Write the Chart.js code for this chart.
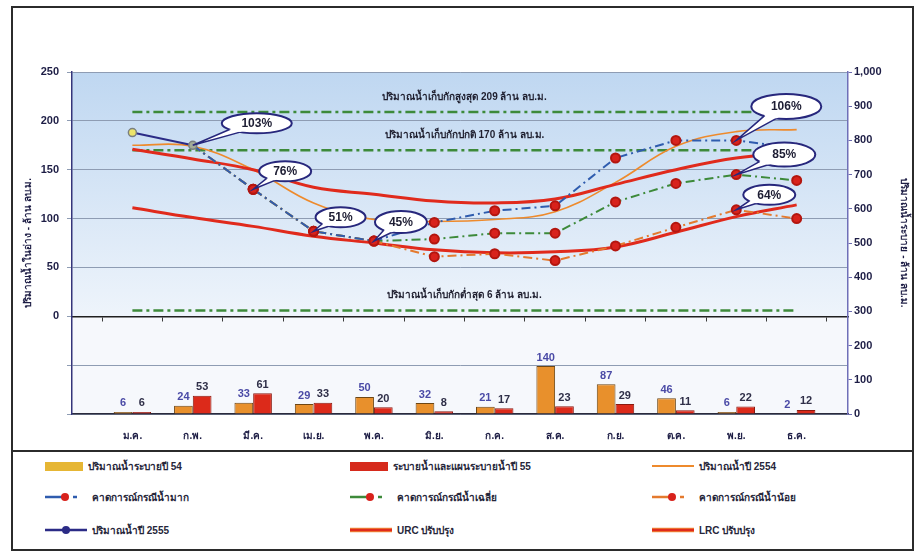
<!DOCTYPE html>
<html><head><meta charset="utf-8">
<script src="https://cdn.jsdelivr.net/npm/chart.js@4.4.0/dist/chart.umd.min.js"></script>
<style>
html,body{margin:0;padding:0;background:#fff;}
#wrap{position:relative;width:917px;height:552px;overflow:hidden;background:#fff;}
#c{position:absolute;left:0;top:0;}
#frame{position:absolute;left:11px;top:6px;width:899px;height:541px;border:2px solid #2b2b2b;pointer-events:none;}
#sep{position:absolute;left:11px;top:450px;width:903px;height:2px;background:#2b2b2b;}
#legend{position:absolute;left:13px;top:452px;width:899px;height:95px;}
.li{position:absolute;display:flex;align-items:center;height:20px;font:bold 10px 'Liberation Sans','Noto Sans',sans-serif;color:#26263a;white-space:nowrap;}
.li svg{margin-right:3px;}
</style>
</head><body>
<div id="wrap">
<canvas id="c" width="917" height="452"></canvas>
<div id="legend"></div>
<div id="sep"></div>
<div id="frame"></div>
</div>
<script>
// ---------------- data ----------------
const months = ['ม.ค.','ก.พ.','มี.ค.','เม.ย.','พ.ค.','มิ.ย.','ก.ค.','ส.ค.','ก.ย.','ต.ค.','พ.ย.','ธ.ค.'];
const release54 = [6,24,33,29,50,32,21,140,87,46,6,2];
const release55 = [6,53,61,33,20,8,17,23,29,11,22,12];
const storage2554 = [175,174,150,116,99,97,99,107,137,174,189,191];
const storage2555 = [188,175,null,null,null,null,null,null,null,null,null,null];
const forecastHigh = [null,175,130,87,77,96,108,113,162,180,180,172];
const forecastAvg  = [null,175,130,87,77,79,85,85,117,136,145,139];
const forecastLow  = [null,175,130,87,77,61,64,57,72,91,109,100];
const urc = [171,161,150,132,125,118,116,120,135,150,162,167];
const lrc = [111,101,92,82,75,68,65,66,71,86,102,114];
const maxStorage = 209, normalStorage = 170, minStorage = 6;
const refLabels = ['ปริมาณน้ำเก็บกักสูงสุด 209 ล้าน ลบ.ม.','ปริมาณน้ำเก็บกักปกติ 170 ล้าน ลบ.ม.','ปริมาณน้ำเก็บกักต่ำสุด 6 ล้าน ลบ.ม.'];
const calloutTexts = ['103%','76%','51%','45%','106%','85%','64%'];
const leftTitle = 'ปริมาณน้ำในอ่าง - ล้าน ลบ.ม.';
const rightTitle = 'ปริมาณน้ำระบาย - ล้าน ลบ.ม.';

// ---------------- helpers ----------------
const F = "'Liberation Sans','Noto Sans',sans-serif";
const xy = arr => arr.map((v,i)=>({x:i+1,y:v}));
const flat = v => months.map((m,i)=>({x:i+1,y:v}));
const fcRadius = c => c.dataIndex < 2 ? 0 : 4.5;

const datasets = [
  {key:'ref1',type:'line',data:flat(maxStorage),yAxisID:'y',borderColor:'#3d8a3a',borderWidth:2.5,borderDash:[10,4,3,4],pointRadius:0,order:5},
  {key:'ref2',type:'line',data:flat(normalStorage),yAxisID:'y',borderColor:'#3d8a3a',borderWidth:2.5,borderDash:[10,4,3,4],pointRadius:0,order:5},
  {key:'ref3',type:'line',data:flat(minStorage),yAxisID:'y',borderColor:'#3d8a3a',borderWidth:2.5,borderDash:[10,4,3,4],pointRadius:0,order:5},
  {key:'s2554',label:'ปริมาณน้ำปี 2554',type:'line',data:xy(storage2554),yAxisID:'y',borderColor:'#ee8a2c',borderWidth:1.6,tension:0.4,pointRadius:0,order:4},
  {key:'urc',label:'URC ปรับปรุง',type:'line',data:xy(urc),yAxisID:'y',borderColor:'#e02a1c',borderWidth:3,tension:0.4,pointRadius:0,order:3},
  {key:'lrc',label:'LRC ปรับปรุง',type:'line',data:xy(lrc),yAxisID:'y',borderColor:'#e02a1c',borderWidth:3,tension:0.4,pointRadius:0,order:3},
  {key:'fLow',label:'คาดการณ์กรณีน้ำน้อย',type:'line',data:xy(forecastLow),yAxisID:'y',borderColor:'#e47a2e',borderWidth:2,borderDash:[9,4,2,4],pointRadius:fcRadius,pointBackgroundColor:'#d8221c',pointBorderColor:'#b3160f',order:2},
  {key:'fAvg',label:'คาดการณ์กรณีน้ำเฉลี่ย',type:'line',data:xy(forecastAvg),yAxisID:'y',borderColor:'#3d8a3a',borderWidth:2,borderDash:[9,4,2,4],pointRadius:fcRadius,pointBackgroundColor:'#d8221c',pointBorderColor:'#b3160f',order:2},
  {key:'fHigh',label:'คาดการณ์กรณีน้ำมาก',type:'line',data:xy(forecastHigh),yAxisID:'y',borderColor:'#2f5cae',borderWidth:2,borderDash:[9,4,2,4],pointRadius:fcRadius,pointBackgroundColor:'#d8221c',pointBorderColor:'#b3160f',order:1},
  {key:'s2555',label:'ปริมาณน้ำปี 2555',type:'line',data:xy(storage2555),yAxisID:'y',borderColor:'#2b2b86',borderWidth:2,pointRadius:4,pointBackgroundColor:['#ece46a','#a3ab98'],pointBorderColor:'#7a7f80',pointBorderWidth:1.5,order:0},
  {key:'r54',label:'ปริมาณน้ำระบายปี 54',type:'bar',data:xy(release54),yAxisID:'y2',backgroundColor:'#e8902c',borderColor:'#6d4614',borderWidth:1,categoryPercentage:0.62,barPercentage:1,order:6,labelColor:'#4a4aa6',legendColor:'#e6b634'},
  {key:'r55',label:'ระบายน้ำและแผนระบายน้ำปี 55',type:'bar',data:xy(release55),yAxisID:'y2',backgroundColor:'#dc2a1a',borderColor:'#8a1a10',borderWidth:1,categoryPercentage:0.62,barPercentage:1,order:6,labelColor:'#2f2f48',legendColor:'#d62a1c'}
];

// callout anchors & placement (style)
const callouts = [
  {key:'s2555',i:1,dx:64,dy:-22,w:70,h:20},
  {key:'fHigh',i:2,dx:32,dy:-18,w:52,h:20},
  {key:'fHigh',i:3,dx:27,dy:-14,w:50,h:20},
  {key:'fHigh',i:4,dx:27,dy:-19,w:52,h:22},
  {key:'fHigh',i:10,dx:50,dy:-34,w:70,h:25},
  {key:'fAvg',i:10,dx:48,dy:-20,w:62,h:24},
  {key:'fLow',i:10,dx:33,dy:-15,w:52,h:20}
];

// ---------------- plugins ----------------
const bgPlugin = {
  id:'bg',
  beforeDraw(chart){
    const {ctx, chartArea:a, scales} = chart;
    const y0 = scales.y.getPixelForValue(0);
    const g = ctx.createLinearGradient(0,a.top,0,y0);
    g.addColorStop(0,'#bfd7f1'); g.addColorStop(1,'#eef4fb');
    ctx.save();
    ctx.fillStyle = g; ctx.fillRect(a.left,a.top,a.right-a.left,y0-a.top);
    ctx.fillStyle = '#f6f8fc'; ctx.fillRect(a.left,y0,a.right-a.left,a.bottom-y0);
    ctx.restore();
  }
};
const barLabelPlugin = {
  id:'barLabels',
  afterDatasetsDraw(chart){
    const ctx = chart.ctx;
    ctx.save();
    ctx.font = 'bold 11px ' + F; ctx.textAlign = 'center'; ctx.textBaseline = 'bottom';
    chart.data.datasets.forEach((ds,di)=>{
      if (ds.type !== 'bar') return;
      const meta = chart.getDatasetMeta(di);
      ctx.fillStyle = ds.labelColor;
      meta.data.forEach((el,k)=>{ ctx.fillText(String(ds.data[k].y), el.x, el.y - 3); });
    });
    ctx.restore();
  }
};
const refLabelPlugin = {
  id:'refLabels',
  afterDatasetsDraw(chart){
    const {ctx, scales} = chart;
    const xc = scales.x.getPixelForValue(6.5);
    const vals = [maxStorage, normalStorage, minStorage];
    ctx.save();
    ctx.font = 'bold 10px ' + F; ctx.textAlign = 'center'; ctx.textBaseline = 'middle'; ctx.fillStyle = '#1e1e2e';
    vals.forEach((v,i)=>{ ctx.fillText(refLabels[i], xc, scales.y.getPixelForValue(v) - 15); });
    ctx.restore();
  }
};
const calloutPlugin = {
  id:'callouts',
  afterDatasetsDraw(chart){
    const ctx = chart.ctx;
    callouts.forEach((c,n)=>{
      const di = chart.data.datasets.findIndex(d=>d.key===c.key);
      const el = chart.getDatasetMeta(di).data[c.i];
      const px = el.x, py = el.y, cx = px + c.dx, cy = py + c.dy, rx = c.w/2, ry = c.h/2;
      const ang = Math.atan2((py-cy)/ry, (px-cx)/rx);
      const b = s => [cx + 0.8*rx*Math.cos(ang+s), cy + 0.8*ry*Math.sin(ang+s)];
      const b1 = b(-0.28), b2 = b(0.28);
      ctx.save();
      ctx.lineWidth = 2; ctx.strokeStyle = '#27277c'; ctx.fillStyle = '#ffffff';
      ctx.beginPath(); ctx.ellipse(cx,cy,rx,ry,0,0,Math.PI*2); ctx.fill(); ctx.stroke();
      ctx.beginPath(); ctx.moveTo(b1[0],b1[1]); ctx.lineTo(px,py); ctx.lineTo(b2[0],b2[1]); ctx.closePath(); ctx.fill();
      ctx.save();
      ctx.beginPath(); ctx.rect(0,0,chart.width,chart.height); ctx.ellipse(cx,cy,rx,ry,0,0,Math.PI*2);
      ctx.clip('evenodd');
      ctx.lineWidth = 1.5;
      ctx.beginPath(); ctx.moveTo(b1[0],b1[1]); ctx.lineTo(px,py); ctx.lineTo(b2[0],b2[1]); ctx.stroke();
      ctx.restore();
      ctx.font = 'bold 12px ' + F; ctx.textAlign = 'center'; ctx.textBaseline = 'middle'; ctx.fillStyle = '#1d1d33';
      ctx.fillText(calloutTexts[n], cx, cy + 0.5);
      ctx.restore();
    });
  }
};

// ---------------- chart ----------------
const tickFont = {family:F, size:11, weight:'bold'};
const chart = new Chart(document.getElementById('c'), {
  data:{datasets},
  plugins:[bgPlugin, barLabelPlugin, refLabelPlugin, calloutPlugin],
  options:{
    responsive:false, animation:false, devicePixelRatio:1,
    layout:{padding:{left:14,right:7,top:72,bottom:0}},
    plugins:{legend:{display:false}, tooltip:{enabled:false}},
    scales:{
      x:{type:'linear',position:'bottom',min:0,max:12.85,offset:false,
        afterBuildTicks:s=>{ s.ticks = months.map((m,i)=>({value:i+1})); },
        afterFit:s=>{ s.height = 38; },
        ticks:{callback:v=>months[v-1], font:{family:F,size:10,weight:'bold'}, color:'#1d1d45', padding:16, autoSkip:false, maxRotation:0},
        grid:{drawOnChartArea:false, drawTicks:false, offset:false},
        border:{color:'#2a2a3c', width:1.5}},
      xMid:{type:'linear',axis:'x',position:{y:0},min:0,max:12.85,offset:false,
        afterBuildTicks:s=>{ s.ticks = months.concat(['']).map((m,i)=>({value:i+0.5})); },
        ticks:{display:false},
        grid:{drawOnChartArea:false, drawTicks:true, tickLength:4, color:'#3a3a3a', offset:false},
        border:{color:'#1f1f1f', width:1.5}},
      y:{type:'linear',position:'left',min:-100,max:250,
        afterFit:s=>{ s.width = 58; },
        ticks:{stepSize:50, callback:v=> v<0 ? '' : String(v), font:tickFont, color:'#1d1d45', padding:8},
        grid:{color:'#8e9cb3', lineWidth:1, tickLength:5},
        border:{color:'#35357a', width:1.5},
        title:{display:true, text:leftTitle, font:{family:F,size:10,weight:'bold'}, color:'#1d1d45', padding:{top:8,bottom:0}}},
      y2:{type:'linear',position:'right',min:0,max:1000,
        afterFit:s=>{ s.width = 62; },
        ticks:{stepSize:100, callback:v=>v.toLocaleString('en-US'), font:tickFont, color:'#1d1d45', padding:2},
        grid:{drawOnChartArea:false, tickLength:4, color:'#6a6ab0'},
        border:{color:'#6f6fb8', width:1.5},
        title:{display:true, text:rightTitle, font:{family:F,size:10,weight:'bold'}, color:'#1d1d45', padding:{top:0,bottom:5}}}
    }
  }
});

// ---------------- HTML legend (from datasets) ----------------
const legendOrder = ['r54','r55','s2554','fHigh','fAvg','fLow','s2555','urc','lrc'];
const colX = [32,337,639], rowY = [4,35,68];
const legendEl = document.getElementById('legend');
legendOrder.forEach((k,n)=>{
  const ds = datasets.find(d=>d.key===k);
  let svg;
  if (ds.type === 'bar') {
    svg = `<svg width="40" height="12"><rect x="0" y="2" width="38" height="9" fill="${ds.legendColor}"/></svg>`;
  } else if (k.startsWith('f')) {
    svg = `<svg width="44" height="12"><line x1="0" y1="6" x2="22" y2="6" stroke="${ds.borderColor}" stroke-width="2.5"/><line x1="28" y1="6" x2="32" y2="6" stroke="${ds.borderColor}" stroke-width="2.5"/><circle cx="20" cy="6" r="4" fill="#d8221c"/></svg>`;
  } else if (k === 's2555') {
    svg = `<svg width="44" height="12"><line x1="0" y1="6" x2="42" y2="6" stroke="${ds.borderColor}" stroke-width="2.5"/><circle cx="21" cy="6" r="4" fill="${ds.borderColor}"/></svg>`;
  } else if (k === 's2554') {
    svg = `<svg width="44" height="12"><line x1="0" y1="6" x2="42" y2="6" stroke="${ds.borderColor}" stroke-width="2"/></svg>`;
  } else {
    svg = `<svg width="44" height="12"><line x1="0" y1="6" x2="42" y2="6" stroke="#f08a3a" stroke-width="4.5"/><line x1="0" y1="6" x2="42" y2="6" stroke="${ds.borderColor}" stroke-width="2.5"/></svg>`;
  }
  const d = document.createElement('div');
  d.className = 'li';
  d.style.left = colX[n%3] + 'px';
  d.style.top = rowY[Math.floor(n/3)] + 'px';
  d.innerHTML = svg + '<span>' + ds.label + '</span>';
  legendEl.appendChild(d);
});
</script>
</body></html>
